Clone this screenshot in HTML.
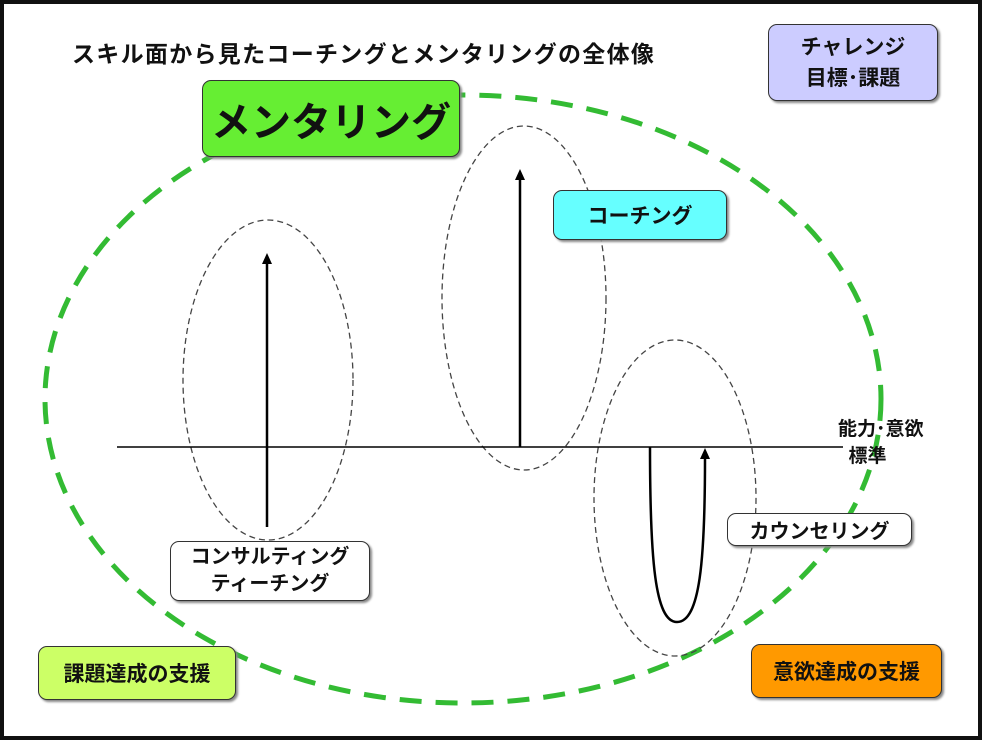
<!DOCTYPE html>
<html><head><meta charset="utf-8"><style>
body{margin:0;width:982px;height:740px;background:#fff;overflow:hidden;font-family:"Liberation Sans","Noto Sans CJK JP",sans-serif;}
.f{position:absolute;left:0;top:0;width:974px;height:732px;border:4px solid #111;}
.b{position:absolute;border:1.5px solid #333;border-radius:9px;box-sizing:border-box;display:flex;align-items:center;justify-content:center;text-align:center;font-weight:bold;color:#111;box-shadow:2px 2px 2px #888;}
.t{position:absolute;font-weight:bold;color:#111;}
</style></head><body>
<div class="f"></div>
<svg width="982" height="740" style="position:absolute;left:0;top:0">
<ellipse cx="463" cy="399" rx="418" ry="304" fill="none" stroke="#33bb33" stroke-width="5" stroke-dasharray="22,14"/>
<ellipse cx="268" cy="380" rx="85" ry="160" fill="none" stroke="#444" stroke-width="1.3" stroke-dasharray="6,4"/>
<ellipse cx="524" cy="298" rx="82" ry="172" fill="none" stroke="#444" stroke-width="1.3" stroke-dasharray="6,4"/>
<ellipse cx="675" cy="498" rx="81" ry="158" fill="none" stroke="#444" stroke-width="1.3" stroke-dasharray="6,4"/>
<line x1="117" y1="447" x2="843" y2="447" stroke="#000" stroke-width="1.5"/>
<line x1="267" y1="527" x2="267" y2="262" stroke="#000" stroke-width="2.5"/>
<polygon points="262,264 267,253 272,264" fill="#000"/>
<line x1="520" y1="447" x2="520" y2="178" stroke="#000" stroke-width="2.5"/>
<polygon points="515,180 520,169 525,180" fill="#000"/>
<path d="M650,447 C650,560 655,622 677,622 C700,622 705,560 705,458" fill="none" stroke="#000" stroke-width="2.5"/>
<polygon points="700,459 705,448 710,459" fill="#000"/>
</svg>
<div class="t" style="left:72px;top:35px;font-size:23px;letter-spacing:1.3px;">スキル面から見たコーチングとメンタリングの全体像</div>
<div class="b" style="left:768px;top:24px;width:170px;height:77px;background:#ccccff;font-size:21px;line-height:31px;">チャレンジ<br>目標･課題</div>
<div class="b" style="left:202px;top:80px;width:258px;height:77px;background:#66ee33;font-size:40px;">メンタリング</div>
<div class="b" style="left:553px;top:190px;width:174px;height:50px;background:#66ffff;font-size:21px;">コーチング</div>
<div class="b" style="left:727px;top:513px;width:185px;height:33px;background:#fff;font-size:20px;">カウンセリング</div>
<div class="b" style="left:170px;top:541px;width:200px;height:60px;background:#fff;font-size:20px;line-height:27px;">コンサルティング<br>ティーチング</div>
<div class="b" style="left:38px;top:646px;width:198px;height:54px;background:#ccff66;font-size:21px;">課題達成の支援</div>
<div class="b" style="left:751px;top:644px;width:191px;height:54px;background:#ff9900;font-size:21px;">意欲達成の支援</div>
<div class="t" style="left:838px;top:416px;font-size:19px;line-height:27px;">能力･意欲<br>&nbsp;&nbsp;標準</div>
</body></html>
